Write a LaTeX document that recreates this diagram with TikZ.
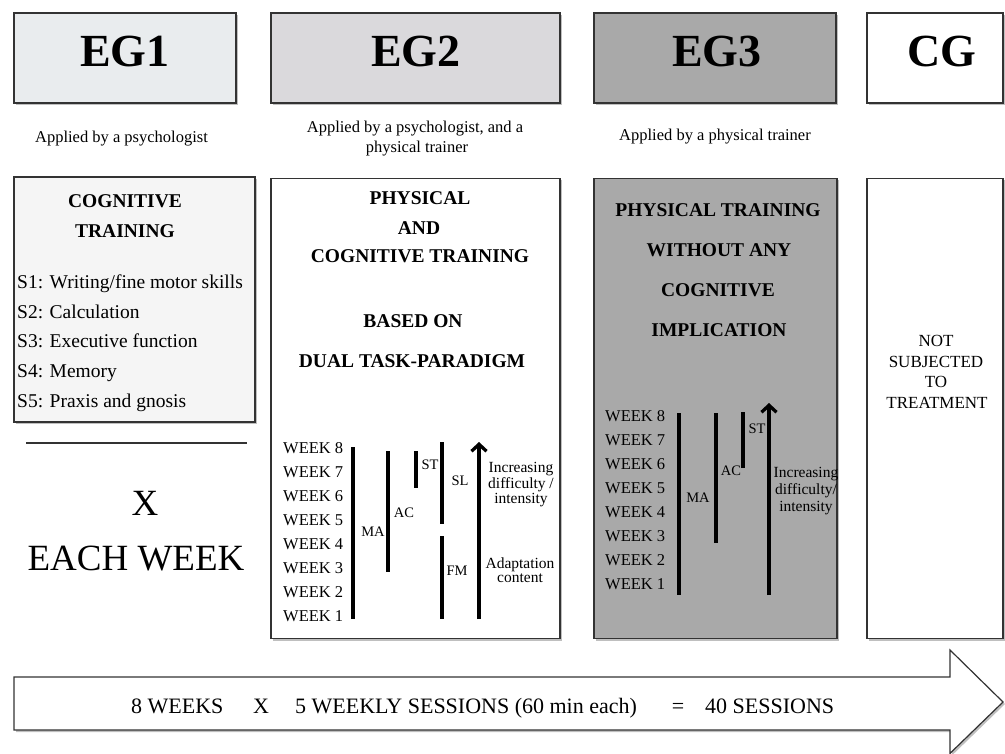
\documentclass[tikz,border=0pt]{standalone}
\usepackage{fontspec}
\setmainfont{Liberation Serif}
\usetikzlibrary{arrows.meta,shadows}
\newcommand\myfs[1]{\fontsize{#1}{#1}\selectfont}
\definecolor{hdrA}{HTML}{E9ECEE}
\definecolor{hdrB}{HTML}{DAD9DC}
\definecolor{grayC}{HTML}{A9A9A9}
\definecolor{boxA}{HTML}{F5F5F5}
\definecolor{edge}{HTML}{333333}
\tikzset{
 shad/.style={drop shadow={shadow xshift=2pt,shadow yshift=-2pt,opacity=0.25,fill=black}},
 panel/.style={draw=edge,line width=1.2pt,inner sep=0pt,shad},
 txt/.style={inner sep=0pt,anchor=base},
 hdrtxt/.style={txt,font=\myfs{46}\bfseries},
 applied/.style={txt,font=\myfs{16.5}},
 headb/.style={txt,font=\myfs{19.5}\bfseries},
 item/.style={inner sep=0pt,anchor=base west,font=\myfs{19.5}},
 week/.style={inner sep=0pt,anchor=base west,font=\myfs{16.5}},
 tag/.style={txt,font=\myfs{14.5}},
 note/.style={txt,font=\myfs{15.5}},
 cgtxt/.style={txt,font=\myfs{17}},
 big/.style={txt,font=\myfs{37}},
 bottxt/.style={inner sep=0pt,font=\myfs{22}},
 bar/.style={line width=3.3pt,black},
 uparr/.style={line width=3.3pt,black,-{Straight Barb[length=7pt,width=15pt]}},
}
\begin{document}
\begin{tikzpicture}[x=1pt,y=-1pt]
\useasboundingbox (0,0) rectangle (1005,754);
% headers
\node[panel,fill=hdrA,minimum width=222pt,minimum height=90pt] (eg1h) at (125,58) {};
\node[panel,fill=hdrB,minimum width=289pt,minimum height=90pt] (eg2h) at (415.5,58) {};
\node[panel,fill=grayC,minimum width=242pt,minimum height=90pt] (eg3h) at (715,58) {};
\node[panel,fill=white,minimum width=136pt,minimum height=90pt] (cgh) at (935,58) {};
\node[hdrtxt] (eg1t) at (125,67) {EG1};
\node[hdrtxt] (eg2t) at (416,67) {EG2};
\node[hdrtxt] (eg3t) at (717,67) {EG3};
\node[hdrtxt] (cgt) at (942,67) {CG};
% applied by
\node[applied] (ap1) at (121.5,143) {Applied by a psychologist};
\node[applied] (ap2a) at (415,132.5) {Applied by a psychologist, and a};
\node[applied] (ap2b) at (417,153) {physical trainer};
\node[applied] (ap3) at (715,141) {Applied by a physical trainer};
% main boxes
\node[panel,fill=boxA,line width=1.6pt,minimum width=241pt,minimum height=245pt] (eg1b) at (134.5,299.5) {};
\node[panel,fill=white,minimum width=289pt,minimum height=460pt] (eg2b) at (415.5,408.5) {};
\node[panel,fill=grayC,minimum width=243pt,minimum height=460pt] (eg3b) at (715.5,408.5) {};
\node[panel,fill=white,minimum width=136pt,minimum height=460pt] (cgb) at (935,408.5) {};
% EG1 content
\node[headb] (c1) at (125,208) {COGNITIVE};
\node[headb] (c2) at (125,238) {TRAINING};
\node[item] (s1) at (17,289) {S1: Writing/fine motor skills};
\node[item] (s2) at (17,318.5) {S2: Calculation};
\node[item] (s3) at (17,348) {S3: Executive function};
\node[item] (s4) at (17,377.5) {S4: Memory};
\node[item] (s5) at (17,407) {S5: Praxis and gnosis};
\draw[line width=2.5pt,edge] (26,443) -- (247,443);
\node[big] (xx) at (145,515) {X};
\node[big] (ew) at (136,570) {EACH WEEK};
% EG2 content
\node[headb] (p1) at (420,205) {PHYSICAL};
\node[headb] (p2) at (419,235) {AND};
\node[headb] (p3) at (420,263) {COGNITIVE TRAINING};
\node[headb] (p4) at (413,328) {BASED ON};
\node[headb] (p5) at (412,367) {DUAL TASK-PARADIGM};
\foreach \k in {1,...,8}
  \node[week] (wa\k) at (283,{453+(8-\k)*24.14}) {WEEK \k};
\draw[bar] (353,447) -- (353,619);
\draw[bar] (388,451) -- (388,572);
\draw[bar] (416,451) -- (416,488);
\draw[bar] (442,442) -- (442,524);
\draw[bar] (442,536) -- (442,619);
\draw[uparr] (479,619) -- (479,442);
\node[tag] (ma2) at (373,536) {MA};
\node[tag] (ac2) at (404,517) {AC};
\node[tag] (st2) at (430,469) {ST};
\node[tag] (sl2) at (460,485) {SL};
\node[tag] (fm2) at (457,575) {FM};
\node[note] (in2a) at (521,472) {Increasing};
\node[note] (in2b) at (521,488) {difficulty /};
\node[note] (in2c) at (521,503) {intensity};
\node[note] (ad2a) at (520,568) {Adaptation};
\node[note] (ad2b) at (520,582) {content};
% EG3 content
\node[headb] (q1) at (718,217) {PHYSICAL TRAINING};
\node[headb] (q2) at (719,257) {WITHOUT ANY};
\node[headb] (q3) at (718,297) {COGNITIVE};
\node[headb] (q4) at (719,337) {IMPLICATION};
\foreach \k in {1,...,8}
  \node[week] (wb\k) at (605,{421.7+(8-\k)*24.04}) {WEEK \k};
\draw[bar] (679,413) -- (679,595);
\draw[bar] (716,413) -- (716,543);
\draw[bar] (743,412) -- (743,468);
\draw[uparr] (769,595) -- (769,403);
\node[tag] (ma3) at (698,502) {MA};
\node[tag] (ac3) at (731,475) {AC};
\node[tag] (st3) at (757,433) {ST};
\node[note] (in3a) at (806,477) {Increasing};
\node[note] (in3b) at (806,494) {difficulty/};
\node[note] (in3c) at (806,511) {intensity};
% CG content
\node[cgtxt] (n1) at (936,347) {NOT};
\node[cgtxt] (n2) at (936,367) {SUBJECTED};
\node[cgtxt] (n3) at (936,387.5) {TO};
\node[cgtxt] (n4) at (937,408) {TREATMENT};
% bottom arrow
\draw[draw=edge,line width=1.2pt,fill=white,shad] (14,677) -- (950,677) -- (950,650) -- (1003,702) -- (950,753.4) -- (950,730) -- (14,730) -- cycle;
\node[bottxt,anchor=base west] (b1) at (131,713) {8 WEEKS};
\node[bottxt,anchor=base] (b2) at (261,713) {X};
\node[bottxt,anchor=base west] (b3) at (295,713) {5 WEEKLY SESSIONS (60 min each)};
\node[bottxt,anchor=base] (b4) at (678,713) {=};
\node[bottxt,anchor=base west] (b5) at (705,713) {40 SESSIONS};
\end{tikzpicture}
\end{document}
